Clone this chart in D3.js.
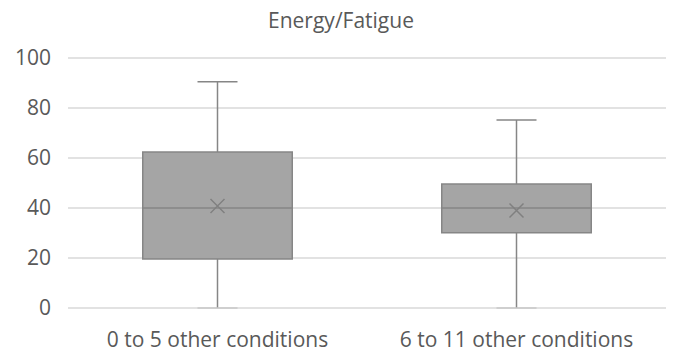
<!DOCTYPE html>
<html>
<head>
<meta charset="utf-8">
<script src="https://cdn.jsdelivr.net/npm/d3@7"></script>
<style>
  body { margin: 0; background: #fff; }
  text { font-family: "Open Sans", sans-serif; fill: #595959; }
</style>
</head>
<body>
<div id="chart"></div>
<script>
// chart data
const categories = ["0 to 5 other conditions", "6 to 11 other conditions"];
const minVals = [0, 0];
const q1Vals = [19.6, 30.1];
const medianVals = [40, 40];
const q3Vals = [62.4, 49.6];
const maxVals = [90.5, 75.2];
const meanVals = [40.8, 39];
const yTicks = [0, 20, 40, 60, 80, 100];

const width = 673, height = 360;
const margin = {top: 58, right: 7, bottom: 52, left: 68};

const svg = d3.select("#chart").append("svg")
  .attr("width", width).attr("height", height);

const x = d3.scaleBand().domain(categories)
  .range([margin.left, width - margin.right]);
const y = d3.scaleLinear().domain([0, 100])
  .range([height - margin.bottom, margin.top]);

// gridlines
svg.append("g").selectAll("line").data(yTicks).enter().append("line")
  .attr("x1", margin.left).attr("x2", width - margin.right)
  .attr("y1", d => y(d)).attr("y2", d => y(d))
  .attr("stroke", "#d9d9d9").attr("stroke-width", 1.3);

// y axis labels
const yAxis = d3.axisLeft(y).tickValues(yTicks).tickSize(0).tickPadding(17);
const gy = svg.append("g").attr("transform", `translate(${margin.left},0)`).call(yAxis);
gy.select(".domain").remove();
gy.selectAll("text").style("font-size", "21px").attr("fill", "#595959");

// x axis labels
const xAxis = d3.axisBottom(x).tickSize(0).tickPadding(24);
const gx = svg.append("g").attr("transform", `translate(0,${y(0)})`).call(xAxis);
gx.select(".domain").remove();
gx.selectAll("text").style("font-size", "21px").attr("fill", "#595959");

// title
svg.append("text").attr("x", 341).attr("y", 28)
  .attr("text-anchor", "middle").style("font-size", "21px")
  .text("Energy/Fatigue");

const boxW = x.bandwidth() * 0.5;
const capW = 40;
const stroke = "#868686";

const boxes = svg.append("g").selectAll("g").data(categories).enter().append("g");

// whiskers
boxes.append("line")
  .attr("x1", d => x(d) + x.bandwidth() / 2).attr("x2", d => x(d) + x.bandwidth() / 2)
  .attr("y1", (d, i) => y(minVals[i])).attr("y2", (d, i) => y(maxVals[i]))
  .attr("stroke", stroke).attr("stroke-width", 1.5);
// top caps
boxes.append("line")
  .attr("x1", d => x(d) + x.bandwidth() / 2 - capW / 2)
  .attr("x2", d => x(d) + x.bandwidth() / 2 + capW / 2)
  .attr("y1", (d, i) => y(maxVals[i])).attr("y2", (d, i) => y(maxVals[i]))
  .attr("stroke", stroke).attr("stroke-width", 1.5);
// bottom caps
boxes.append("line")
  .attr("x1", d => x(d) + x.bandwidth() / 2 - capW / 2)
  .attr("x2", d => x(d) + x.bandwidth() / 2 + capW / 2)
  .attr("y1", (d, i) => y(minVals[i])).attr("y2", (d, i) => y(minVals[i]))
  .attr("stroke", "#c8c8c8").attr("stroke-width", 1.5);

// boxes
boxes.append("rect")
  .attr("x", d => x(d) + (x.bandwidth() - boxW) / 2)
  .attr("width", boxW)
  .attr("y", (d, i) => y(q3Vals[i]))
  .attr("height", (d, i) => y(q1Vals[i]) - y(q3Vals[i]))
  .attr("fill", "#a5a5a5").attr("stroke", stroke).attr("stroke-width", 1.5);

// medians
boxes.append("line")
  .attr("x1", d => x(d) + (x.bandwidth() - boxW) / 2)
  .attr("x2", d => x(d) + (x.bandwidth() + boxW) / 2)
  .attr("y1", (d, i) => y(medianVals[i])).attr("y2", (d, i) => y(medianVals[i]))
  .attr("stroke", stroke).attr("stroke-width", 1.5);

// mean markers
const m = 7;
boxes.append("path")
  .attr("d", (d, i) => {
    const cx = x(d) + x.bandwidth() / 2, cy = y(meanVals[i]);
    return `M${cx - m},${cy - m}L${cx + m},${cy + m}M${cx - m},${cy + m}L${cx + m},${cy - m}`;
  })
  .attr("stroke", "#808080").attr("stroke-width", 1.5).attr("fill", "none");
</script>
</body>
</html>
